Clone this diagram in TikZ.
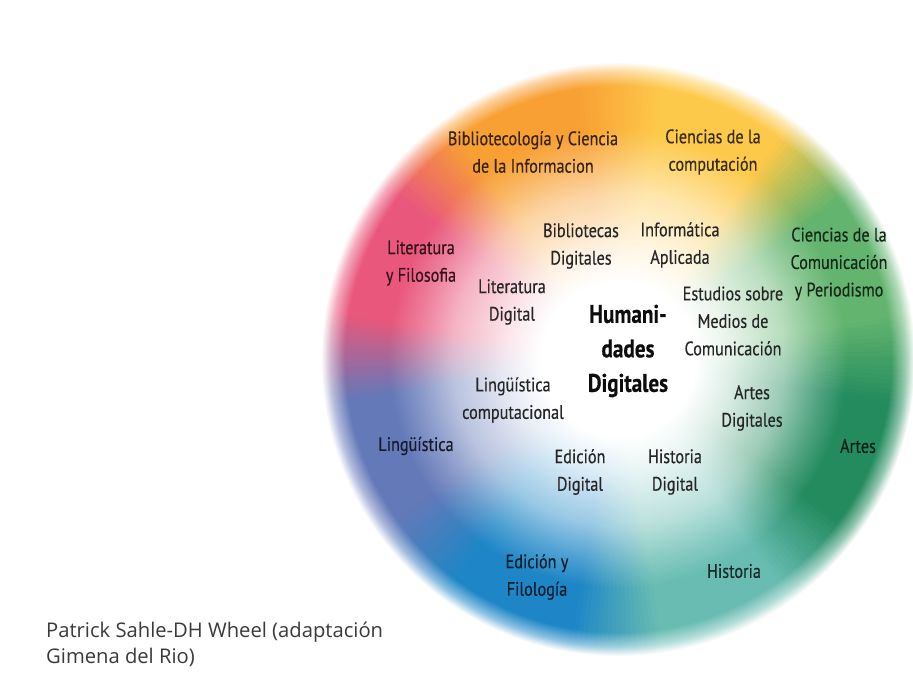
\documentclass[tikz,border=0pt]{standalone}
\usepackage{fontspec}
\setmainfont{PT Sans}
\newfontfamily\labfont[FakeStretch=0.83,FakeBold=0.35]{PT Sans}
\newfontfamily\capfont{Open Sans}

% sector colours of the wheel, counter-clockwise from the east
\definecolor{wGreen}{HTML}{62B46E}
\definecolor{wYellow}{HTML}{FDC94A}
\definecolor{wOrange}{HTML}{F8A034}
\definecolor{wRed}{HTML}{E9577C}
\definecolor{wSlate}{HTML}{6479B8}
\definecolor{wBlue}{HTML}{1E86C6}
\definecolor{wTeal}{HTML}{68BCB2}
\definecolor{wDark}{HTML}{238B5E}
\colorlet{s0}{wGreen}
\colorlet{s1}{wYellow}
\colorlet{s2}{wOrange}
\colorlet{s3}{wRed}
\colorlet{s4}{wSlate}
\colorlet{s5}{wBlue}
\colorlet{s6}{wTeal}
\colorlet{s7}{wDark}
\definecolor{labgray}{HTML}{262626}
\definecolor{capgray}{HTML}{3A3A3A}

% working colours of one wedge
\colorlet{wc}{white}
\colorlet{wcA}{white}
\colorlet{wcB}{white}
\colorlet{wcC}{white}
\colorlet{wcH}{white}

% radial profile of a wedge (25bp = outer radius of the disc):
% white hub, full colour ring, soft rim
\pgfdeclareradialshading[wc,wcA,wcB,wcC,wcH]{wheelray}{\pgfpoint{0bp}{0bp}}{%
  color(0bp)=(white); color(6.5bp)=(white); color(9.5bp)=(wcA);
  color(14bp)=(wcB); color(17bp)=(wcC); color(19.3bp)=(wc);
  color(23bp)=(wc); color(24.2bp)=(wcH); color(25bp)=(white);
  color(50bp)=(white)}

\begin{document}
\begin{tikzpicture}[x=1pt,y=-1pt,
  lab/.style={font=\labfont\fontsize{19.5}{27.5}\selectfont, align=center,
              inner sep=0pt, text=labgray},
  field/.style={lab, text=#1!22!black},
  hub/.style={font=\labfont\bfseries\fontsize{25.5}{34.5}\selectfont,
              align=center, inner sep=0pt, text=black!95},
  credit/.style={font=\capfont\fontsize{20.2}{25.5}\selectfont, align=left,
                 inner sep=0pt, text=capgray}]

\useasboundingbox (0,0) rectangle (913,684);
\fill[white] (0,0) rectangle (913,684);

% the coloured wheel: thin shaded wedges, blended across sector borders
\begin{scope}[shift={(618,359)}, yscale=-1]
  \foreach \a in {0,...,359}{
    \pgfmathtruncatemacro\k{floor((\a+0.5)/45)}
    \pgfmathsetmacro\t{\a+0.5-45*\k}
    \pgfmathtruncatemacro\o{\t<22.5 ? mod(\k+7,8) : mod(\k+1,8)}
    \pgfmathtruncatemacro\p{min(100,50+50*min(\t,45-\t)/9)}
    \colorlet{wc}{s\k!\p!s\o}
    \colorlet{wcA}{wc!15!white}
    \colorlet{wcB}{wc!45!white}
    \colorlet{wcC}{wc!78!white}
    \colorlet{wcH}{wc!50!white}
    \begin{scope}
      \clip (0,0) -- (\a-0.3:302)
        arc[start angle=\a-0.3, end angle=\a+1.3, radius=302] -- cycle;
      \shade[shading=wheelray] (0,0) circle[radius=297];
    \end{scope}
  }
\end{scope}

% disciplines around the rim
\node[field=wOrange] (bib)  at (533,152) {Bibliotecología y Ciencia\\de la Informacion};
\node[field=wYellow] (comp) at (713,152) {Ciencias de la\\computación};
\node[field=wRed]    (lit)  at (421,263) {Literatura\\y Filosofia};
\node[field=wGreen]  (com)  at (839,264) {Ciencias de la\\Comunicación\\y Periodismo};
\node[field=wSlate]  (ling) at (416,446) {Lingüística};
\node[field=wDark]   (art)  at (858,446) {Artes};
\node[field=wBlue]   (edf)  at (537,577) {Edición y\\Filología};
\node[field=wTeal]   (his)  at (734,571) {Historia};

% digital fields around the hub
\node[lab] (bibd)  at (581,246) {Bibliotecas\\Digitales};
\node[lab] (infa)  at (680,245) {Informática\\Aplicada};
\node[lab] (litd)  at (512,302) {Literatura\\Digital};
\node[lab] (med)   at (733,321) {Estudios sobre\\Medios de\\Comunicación};
\node[lab] (lingc) at (513,400) {Lingüística\\computacional};
\node[lab] (artd)  at (752,408) {Artes\\Digitales};
\node[lab] (edd)   at (580,472) {Edición\\Digital};
\node[lab] (hisd)  at (675,472) {Historia\\Digital};

\node[hub] (hd) at (628,351) {Humani-\\dades\\Digitales};

% credit line
\node[credit, anchor=north west] (src) at (46,622)
  {Patrick Sahle-DH Wheel (adaptación\\Gimena del Rio)};
\end{tikzpicture}
\end{document}
